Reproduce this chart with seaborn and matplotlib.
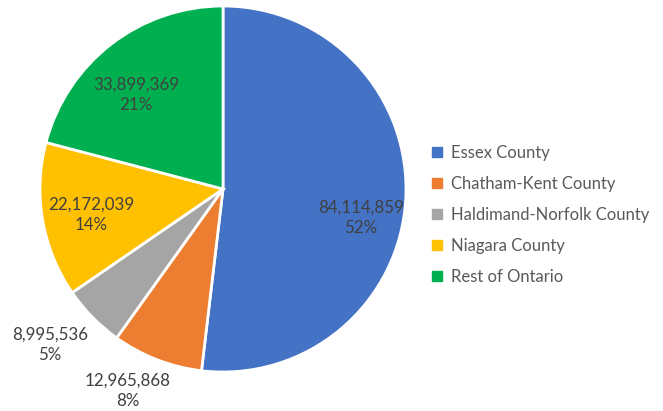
import matplotlib
matplotlib.use("Agg")
import matplotlib.pyplot as plt
from matplotlib.lines import Line2D
import seaborn as sns

# Acreage by region
regions = ["Essex County", "Chatham-Kent County", "Haldimand-Norfolk County",
           "Niagara County", "Rest of Ontario"]
values = [84114859, 12965868, 8995536, 22172039, 33899369]
colors = ["#4472C4", "#ED7D31", "#A5A5A5", "#FFC000", "#00B050"]

# Label block centres in figure pixels (x from left, y from top)
label_pos = [(361, 218), (128, 391), (50, 345), (91, 215), (136, 95)]


def whole_percents(vals):
    """Percentages rounded so they add up to 100 (largest remainder)."""
    total = sum(vals)
    raw = [100 * v / total for v in vals]
    out = [int(p) for p in raw]
    order = sorted(range(len(raw)), key=lambda i: raw[i] - out[i], reverse=True)
    for i in order[:100 - sum(out)]:
        out[i] += 1
    return out


sns.set_theme(style="white")
plt.rcParams["font.family"] = ["Lato", "DejaVu Sans"]

W, H = 663, 411
fig = plt.figure(figsize=(W / 100, H / 100), dpi=100)

cx, cy, r = 223, 189, 183
ax = fig.add_axes([(cx - r) / W, (H - cy - r) / H, 2 * r / W, 2 * r / H])
ax.pie(values, colors=colors, startangle=90, counterclock=False, radius=1,
       wedgeprops=dict(edgecolor="white", linewidth=2))
ax.set_xlim(-1, 1)
ax.set_ylim(-1, 1)
ax.set_aspect("equal")
ax.axis("off")

for v, pct, (px, py) in zip(values, whole_percents(values), label_pos):
    ax.text(px / W, 1 - py / H, f"{v:,}\n{pct}%",
            transform=fig.transFigure, ha="center", va="center",
            multialignment="center", fontsize=12.2, color="#404040",
            linespacing=1.35)

handles = [Line2D([], [], marker="s", linestyle="none", markersize=6.5,
                  markerfacecolor=c, markeredgecolor=c) for c in colors]
fig.legend(handles, regions, loc="center left",
           bbox_to_anchor=(429 / W, 1 - 215 / H), frameon=False,
           fontsize=12, labelcolor="#595959", handletextpad=0.3,
           labelspacing=0.9, handlelength=1.0, borderaxespad=0,
           borderpad=0)

fig.savefig("out.png", dpi=100)
